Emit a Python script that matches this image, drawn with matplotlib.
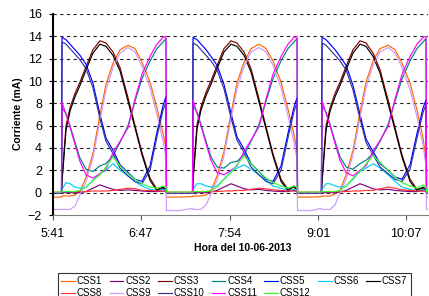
import matplotlib
matplotlib.use("Agg")
import matplotlib.pyplot as plt

plt.rcParams['font.family'] = ['Liberation Sans', 'DejaVu Sans']

# time axis, minutes after midnight (10-06-2013)
minutes = [341.0, 347.4, 347.8, 350.8, 353.8, 357.6, 361.3, 365.9, 371.1, 376.4, 380.9,
           386.2, 391.5, 397.5, 402.8, 408.0, 414.1, 419.3, 423.9, 426.1, 426.5, 436.7,
           446.1, 446.5, 449.5, 452.5, 456.3, 460.0, 464.6, 469.8, 475.1, 479.6, 484.9,
           490.2, 496.2, 501.5, 506.7, 512.8, 518.0, 522.6, 524.8, 525.2, 535.4,
           543.2, 543.7, 546.7, 549.7, 553.5, 557.2, 561.8, 567.0, 572.3, 576.8, 582.1,
           587.4, 593.4, 598.7, 603.9, 610.0, 615.2, 619.8, 622.0, 622.4, 623.5]

css1 = [-0.4, -0.4, -0.3, -0.3, -0.3, -0.2, 0.1, 1.4, 3.5, 7.0, 9.7, 11.6, 12.8, 13.2, 12.9, 11.7, 9.9, 7.6, 5.3, 4.0, -0.4, -0.4,
        -0.35, -0.3, -0.3, -0.3, -0.2, 0.2, 1.5, 3.7, 7.1, 9.8, 11.7, 12.9, 13.3, 12.9, 11.8, 9.9, 7.5, 5.2, 3.8, -0.4, -0.4,
        -0.35, -0.3, -0.3, -0.3, -0.1, 0.2, 1.6, 3.8, 7.2, 9.9, 11.8, 12.9, 13.2, 12.8, 11.6, 9.8, 7.4, 4.9, 3.0, -0.4, -0.4]
css2 = [0, 0, 0, 0, 0, 0, 0, 0.1, 0.4, 0.7, 0.5, 0.3, 0.2, 0.25, 0.2, 0.15, 0.1, 0.1, 0.15, 0.1, 0, 0,
        0, 0, 0, 0, 0, 0.05, 0.2, 0.5, 0.8, 0.6, 0.35, 0.25, 0.3, 0.2, 0.15, 0.1, 0.1, 0.2, 0.1, 0, 0,
        0, 0, 0, 0, 0, 0.05, 0.2, 0.5, 0.8, 0.6, 0.35, 0.25, 0.3, 0.2, 0.15, 0.1, 0.1, 0.2, 0.1, 0, 0]
css3 = [0, 0, 1.2, 6.0, 7.6, 8.9, 9.9, 11.3, 12.8, 13.6, 13.4, 12.6, 11.2, 8.5, 6.0, 3.6, 1.3, 0.3, 0.4, 0.2, 0, 0,
        0, 1.3, 6.1, 7.7, 9.0, 10.0, 11.4, 12.9, 13.6, 13.4, 12.6, 11.1, 8.4, 5.9, 3.5, 1.2, 0.3, 0.5, 0.2, 0, 0,
        0, 1.2, 6.0, 7.6, 8.9, 9.9, 11.3, 12.8, 13.6, 13.4, 12.5, 11.0, 8.3, 5.8, 3.4, 1.2, 0.3, 0.4, 0.2, 0, 0]
css4 = [0, 0, 7.6, 7.1, 6.0, 4.5, 3.1, 2.1, 1.9, 2.4, 2.6, 3.3, 4.5, 6.0, 8.2, 10.2, 11.8, 12.9, 13.5, 13.8, 0, 0,
        0, 7.8, 7.2, 6.1, 4.6, 3.2, 2.3, 2.2, 2.7, 2.8, 3.4, 4.6, 6.1, 8.2, 10.2, 11.8, 12.9, 13.5, 13.8, 0, 0,
        0, 7.8, 7.2, 6.1, 4.6, 3.2, 2.3, 2.1, 2.6, 2.9, 3.5, 4.6, 6.1, 8.2, 10.2, 11.8, 12.9, 13.5, 13.8, 0, 0]
css5 = [0, 0, 13.9, 13.7, 13.3, 12.8, 12.3, 11.5, 9.8, 7.0, 4.9, 3.8, 2.5, 1.8, 1.2, 1.0, 2.4, 5.4, 7.8, 8.6, 0, 0,
        0, 13.9, 13.7, 13.3, 12.8, 12.2, 11.4, 9.7, 7.1, 5.0, 3.9, 2.6, 1.9, 1.2, 1.0, 2.4, 5.3, 7.7, 8.5, 0, 0,
        0, 13.9, 13.7, 13.3, 12.8, 12.2, 11.4, 9.6, 7.0, 4.8, 3.7, 2.6, 2.0, 1.4, 1.2, 2.5, 5.3, 7.6, 8.3, 0, 0]
css6 = [0, 0, 0.3, 0.9, 0.8, 0.5, 0.4, 0.5, 1.1, 1.7, 2.0, 2.6, 2.0, 1.5, 1.0, 0.6, 0.3, 0.2, 0.3, 0.2, 0, 0,
        0, 0.3, 0.8, 0.8, 0.6, 0.5, 0.6, 1.2, 1.9, 2.2, 2.5, 2.1, 1.6, 1.1, 0.6, 0.4, 0.2, 0.3, 0.2, 0, 0,
        0, 0.3, 0.8, 0.8, 0.6, 0.5, 0.6, 1.2, 1.9, 2.2, 2.6, 2.2, 1.6, 1.0, 0.5, 0.3, 0.2, 0.3, 0.2, 0, 0]
css7 = [0, 0, 1.0, 5.6, 7.3, 8.6, 9.6, 11.0, 12.5, 13.3, 13.1, 12.3, 10.9, 8.2, 5.8, 3.4, 1.1, 0.2, 0.5, 0.3, 0, 0,
        0, 1.1, 5.7, 7.4, 8.7, 9.7, 11.1, 12.6, 13.3, 13.1, 12.3, 10.8, 8.1, 5.7, 3.3, 1.0, 0.2, 0.6, 0.3, 0, 0,
        0, 1.0, 5.6, 7.3, 8.6, 9.6, 11.0, 12.5, 13.3, 13.1, 12.2, 10.7, 8.0, 5.6, 3.2, 1.0, 0.2, 0.5, 0.3, 0, 0]
css8 = [0.05, 0.05, 0.1, 0.1, 0.1, 0.1, 0.1, 0.1, 0.15, 0.15, 0.15, 0.2, 0.3, 0.4, 0.35, 0.2, 0.2, 0.15, 0.15, 0.1, 0.05, 0.05,
        0.05, 0.1, 0.1, 0.1, 0.1, 0.1, 0.1, 0.15, 0.15, 0.2, 0.2, 0.3, 0.4, 0.35, 0.25, 0.2, 0.15, 0.15, 0.1, 0.05, 0.05,
        0.05, 0.1, 0.1, 0.1, 0.1, 0.1, 0.1, 0.15, 0.15, 0.2, 0.2, 0.35, 0.5, 0.4, 0.25, 0.2, 0.15, 0.15, 0.1, 0.05, 0.05]
css9 = [-1.5, -1.5, -1.5, -1.5, -1.5, -1.2, -0.2, 1.0, 3.1, 6.5, 9.2, 11.2, 12.5, 13.0, 12.6, 11.3, 9.4, 7.0, 4.6, 3.2, -1.6, -1.6,
        -1.4, -1.5, -1.5, -1.5, -1.1, -0.1, 1.1, 3.3, 6.6, 9.3, 11.3, 12.6, 13.0, 12.6, 11.4, 9.4, 6.9, 4.5, 3.0, -1.6, -1.6,
        -1.4, -1.5, -1.5, -1.5, -1.1, 0.0, 1.2, 3.4, 6.7, 9.4, 11.4, 12.6, 13.0, 12.5, 11.2, 9.2, 6.8, 4.2, 2.4, -1.5, -1.5]
css10 = [0, 0, 13.5, 13.3, 12.9, 12.4, 11.9, 11.1, 9.4, 6.6, 4.6, 3.5, 2.2, 1.5, 1.0, 0.8, 2.0, 5.0, 7.4, 8.1, 0, 0,
         0, 13.4, 13.2, 12.8, 12.3, 11.8, 11.0, 9.3, 6.7, 4.7, 3.6, 2.3, 1.6, 1.0, 0.8, 2.0, 4.9, 7.3, 8.0, 0, 0,
         0, 13.4, 13.2, 12.8, 12.3, 11.8, 11.0, 9.2, 6.6, 4.5, 3.4, 2.3, 1.7, 1.2, 1.0, 2.1, 4.9, 7.2, 7.9, 0, 0]
css11 = [0, 0, 8.1, 7.0, 5.9, 4.3, 2.8, 1.6, 1.3, 1.7, 2.1, 3.6, 4.6, 5.8, 8.4, 10.6, 12.2, 13.3, 13.9, 14.0, 0, 0,
         0, 8.3, 7.1, 6.0, 4.4, 2.9, 1.8, 1.6, 2.0, 2.4, 3.7, 4.7, 5.9, 8.4, 10.6, 12.2, 13.3, 13.9, 14.0, 0, 0,
         0, 8.2, 7.1, 6.0, 4.4, 2.9, 1.8, 1.5, 2.0, 2.4, 3.7, 4.7, 5.9, 8.4, 10.6, 12.2, 13.3, 13.9, 14.0, 0, 0]
css12 = [0.05, 0.05, 0.1, 0.1, 0.1, 0.1, 0.2, 0.5, 1.1, 1.6, 2.3, 3.2, 2.4, 1.7, 1.2, 0.8, 0.5, 0.4, 0.6, 0.5, 0.05, 0.05,
         0.05, 0.1, 0.1, 0.1, 0.1, 0.2, 0.5, 1.2, 1.8, 2.5, 3.3, 2.6, 1.9, 1.3, 0.9, 0.6, 0.4, 0.6, 0.5, 0.05, 0.05,
         0.05, 0.1, 0.1, 0.1, 0.1, 0.2, 0.6, 1.3, 1.9, 2.6, 3.3, 2.7, 2.0, 1.4, 0.9, 0.6, 0.4, 0.7, 0.5, 0.05, 0.05]

names = ['CSS1', 'CSS2', 'CSS3', 'CSS4', 'CSS5', 'CSS6', 'CSS7',
         'CSS8', 'CSS9', 'CSS10', 'CSS11', 'CSS12']
series = [css1, css2, css3, css4, css5, css6, css7, css8, css9, css10, css11, css12]
colors = ['#FF6600', '#800080', '#800000', '#008080', '#0000FF', '#00CCFF', '#000000',
          '#FF3333', '#CC99FF', '#333399', '#FF00FF', '#33FF33']

tick_pos = [341, 407, 474, 541, 607]
tick_lab = ['5:41', '6:47', '7:54', '9:01', '10:07']

fig = plt.figure(figsize=(4.29, 2.96), dpi=100)
ax = fig.add_axes([53 / 429, 1 - 215 / 296, 375 / 429, 201 / 296])

for y in range(0, 17, 2):
    ax.axhline(y, color='#222222', lw=0.8, ls=(0, (3, 3)), zorder=1)

handles = []
for vals, name, col in zip(series, names, colors):
    h, = ax.plot(minutes, vals, color=col, lw=0.85, label=name, zorder=2)
    handles.append(h)

ax.set_xlim(341, 623.5)
ax.set_ylim(-2, 16)
ax.set_yticks(range(-2, 17, 2))
ax.set_xticks(tick_pos)
ax.set_xticklabels(tick_lab)
ax.tick_params(axis='y', labelsize=9, length=3, pad=5)
ax.tick_params(axis='x', labelsize=9, length=3.5, pad=6, color='#555555')
for s in ['top', 'right']:
    ax.spines[s].set_visible(False)
ax.spines['left'].set_linewidth(1.5)
ax.spines['bottom'].set_color('#808080')

fig.text(18 / 429, 1 - 114 / 296, 'Corriente (mA)', rotation=90, ha='center', va='center',
         fontsize=7.5, fontweight='bold')
fig.text(243 / 429, 1 - 248 / 296, 'Hora del 10-06-2013', ha='center', va='center',
         fontsize=7.5, fontweight='bold')

# legend fills column by column, so reorder to get CSS1..CSS7 on the first row
order = [0, 7, 1, 8, 2, 9, 3, 10, 4, 11, 5, 6]
leg = fig.legend(handles=[handles[i] for i in order], loc='upper left',
                 bbox_to_anchor=(58 / 429, 1 - 273 / 296),
                 ncol=7, fontsize=7, frameon=True, fancybox=False, handlelength=1.4,
                 handletextpad=0.2, columnspacing=0.75, labelspacing=0.2, borderpad=0.35,
                 borderaxespad=0)
leg.get_frame().set_edgecolor('black')
leg.get_frame().set_linewidth(0.8)

fig.savefig('out.png', dpi=100)
